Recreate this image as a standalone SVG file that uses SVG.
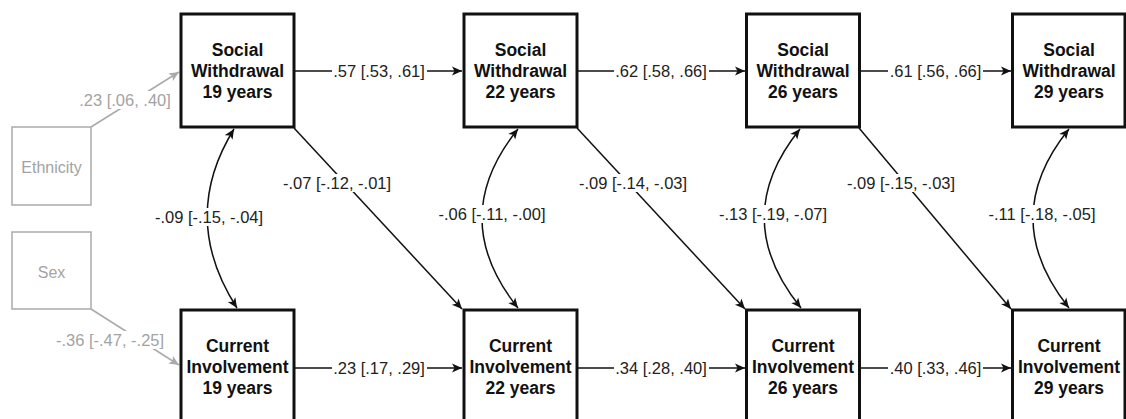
<svg xmlns="http://www.w3.org/2000/svg" width="1126" height="419" viewBox="0 0 1126 419">
<style>
.box{fill:#fff;stroke:#111;stroke-width:3}
.gbox{fill:#fff;stroke:#aaa;stroke-width:1.5}
.nt{font-family:"Liberation Sans",Arial,sans-serif;font-size:17.5px;font-weight:bold;fill:#111;text-anchor:middle}
.gt{font-family:"Liberation Sans",Arial,sans-serif;font-size:16px;fill:#a3a3a3;text-anchor:middle}
.ln{fill:none;stroke:#111;stroke-width:1.5}
.gln{fill:none;stroke:#aaa;stroke-width:1.5}
.lb{font-family:"Liberation Sans",Arial,sans-serif;font-size:16.5px;fill:#222;text-anchor:middle}
.glb{font-family:"Liberation Sans",Arial,sans-serif;font-size:16.5px;fill:#a3a3a3;text-anchor:middle}
.bg{fill:#fff}
</style>
<defs>
<marker id="ah" viewBox="0 0 10 10" refX="10" refY="5" markerWidth="11" markerHeight="10" markerUnits="userSpaceOnUse" orient="auto-start-reverse">
<path d="M0,0.5 L10,5 L0,9.5 L2.5,5 z" fill="#111"/>
</marker>
<marker id="gah" viewBox="0 0 10 10" refX="10" refY="5" markerWidth="11" markerHeight="10" markerUnits="userSpaceOnUse" orient="auto-start-reverse">
<path d="M0,0.5 L10,5 L0,9.5 L2.5,5 z" fill="#aaa"/>
</marker>
</defs>

<g id="connectors">
<!-- covariate paths -->
<path class="gln" d="M91,127 L179,72" marker-end="url(#gah)"/>
<path class="gln" d="M91,309 L179,365" marker-end="url(#gah)"/>
<!-- autoregressive top -->
<path class="ln" d="M295,71 L462,71" marker-end="url(#ah)"/>
<path class="ln" d="M577,71 L745,71" marker-end="url(#ah)"/>
<path class="ln" d="M860,71 L1011,71" marker-end="url(#ah)"/>
<!-- autoregressive bottom -->
<path class="ln" d="M295,368 L462,368" marker-end="url(#ah)"/>
<path class="ln" d="M577,368 L745,368" marker-end="url(#ah)"/>
<path class="ln" d="M860,368 L1011,368" marker-end="url(#ah)"/>
<!-- cross-lagged -->
<path class="ln" d="M294,128 L462,309" marker-end="url(#ah)"/>
<path class="ln" d="M577,128 L745,309" marker-end="url(#ah)"/>
<path class="ln" d="M859,128 L1011,309" marker-end="url(#ah)"/>
<!-- covariances -->
<path class="ln" d="M234,129 Q179,218 237,308" marker-start="url(#ah)" marker-end="url(#ah)"/>
<path class="ln" d="M518,129 Q446,218 518,308" marker-start="url(#ah)" marker-end="url(#ah)"/>
<path class="ln" d="M800,129 Q728,218 801,308" marker-start="url(#ah)" marker-end="url(#ah)"/>
<path class="ln" d="M1069,129 Q997,218 1069,308" marker-start="url(#ah)" marker-end="url(#ah)"/>

<!-- labels -->
<rect class="bg" x="78" y="91" width="95" height="18"/>
<text class="glb" x="125" y="106">.23 [.06, .40]</text>
<rect class="bg" x="55" y="331" width="111" height="18"/>
<text class="glb" x="110" y="346">-.36 [-.47, -.25]</text>

<rect class="bg" x="332" y="62" width="95" height="18"/>
<text class="lb" x="379" y="77">.57 [.53, .61]</text>
<rect class="bg" x="614" y="62" width="95" height="18"/>
<text class="lb" x="661" y="77">.62 [.58, .66]</text>
<rect class="bg" x="888" y="62" width="95" height="18"/>
<text class="lb" x="935.5" y="77">.61 [.56, .66]</text>

<rect class="bg" x="332" y="359" width="95" height="18"/>
<text class="lb" x="379" y="374">.23 [.17, .29]</text>
<rect class="bg" x="614" y="359" width="95" height="18"/>
<text class="lb" x="661" y="374">.34 [.28, .40]</text>
<rect class="bg" x="888" y="359" width="95" height="18"/>
<text class="lb" x="935.5" y="374">.40 [.33, .46]</text>

<rect class="bg" x="282" y="174" width="111" height="18"/>
<text class="lb" x="337" y="189">-.07 [-.12, -.01]</text>
<rect class="bg" x="578" y="174" width="111" height="18"/>
<text class="lb" x="633" y="189">-.09 [-.14, -.03]</text>
<rect class="bg" x="846" y="174" width="111" height="18"/>
<text class="lb" x="901" y="189">-.09 [-.15, -.03]</text>

<rect class="bg" x="154" y="208" width="111" height="18"/>
<text class="lb" x="209" y="223">-.09 [-.15, -.04]</text>
<rect class="bg" x="437" y="205" width="111" height="18"/>
<text class="lb" x="492" y="220">-.06 [-.11, -.00]</text>
<rect class="bg" x="718" y="205" width="111" height="18"/>
<text class="lb" x="773" y="220">-.13 [-.19, -.07]</text>
<rect class="bg" x="987" y="205" width="111" height="18"/>
<text class="lb" x="1042" y="220">-.11 [-.18, -.05]</text>
</g>

<g id="ethnicity"><rect class="gbox" x="12" y="127" width="79" height="78"/><text class="gt" x="51.5" y="173">Ethnicity</text></g>
<g id="sex"><rect class="gbox" x="12" y="232" width="79" height="77"/><text class="gt" x="51.5" y="278">Sex</text></g>

<g id="sw19"><rect class="box" x="181" y="14" width="113" height="113"/><text class="nt" x="237.5" y="56">Social</text><text class="nt" x="237.5" y="77">Withdrawal</text><text class="nt" x="237.5" y="97.5">19 years</text></g>
<g id="sw22"><rect class="box" x="464" y="14" width="113" height="113"/><text class="nt" x="520.5" y="56">Social</text><text class="nt" x="520.5" y="77">Withdrawal</text><text class="nt" x="520.5" y="97.5">22 years</text></g>
<g id="sw26"><rect class="box" x="746.5" y="14" width="113" height="113"/><text class="nt" x="803" y="56">Social</text><text class="nt" x="803" y="77">Withdrawal</text><text class="nt" x="803" y="97.5">26 years</text></g>
<g id="sw29"><rect class="box" x="1012.5" y="14" width="112.5" height="113"/><text class="nt" x="1069" y="56">Social</text><text class="nt" x="1069" y="77">Withdrawal</text><text class="nt" x="1069" y="97.5">29 years</text></g>

<g id="ci19"><rect class="box" x="181" y="310" width="113" height="113"/><text class="nt" x="237.5" y="352">Current</text><text class="nt" x="237.5" y="373">Involvement</text><text class="nt" x="237.5" y="394">19 years</text></g>
<g id="ci22"><rect class="box" x="464" y="310" width="113" height="113"/><text class="nt" x="520.5" y="352">Current</text><text class="nt" x="520.5" y="373">Involvement</text><text class="nt" x="520.5" y="394">22 years</text></g>
<g id="ci26"><rect class="box" x="746.5" y="310" width="113" height="113"/><text class="nt" x="803" y="352">Current</text><text class="nt" x="803" y="373">Involvement</text><text class="nt" x="803" y="394">26 years</text></g>
<g id="ci29"><rect class="box" x="1012.5" y="310" width="112.5" height="113"/><text class="nt" x="1069" y="352">Current</text><text class="nt" x="1069" y="373">Involvement</text><text class="nt" x="1069" y="394">29 years</text></g>
</svg>
